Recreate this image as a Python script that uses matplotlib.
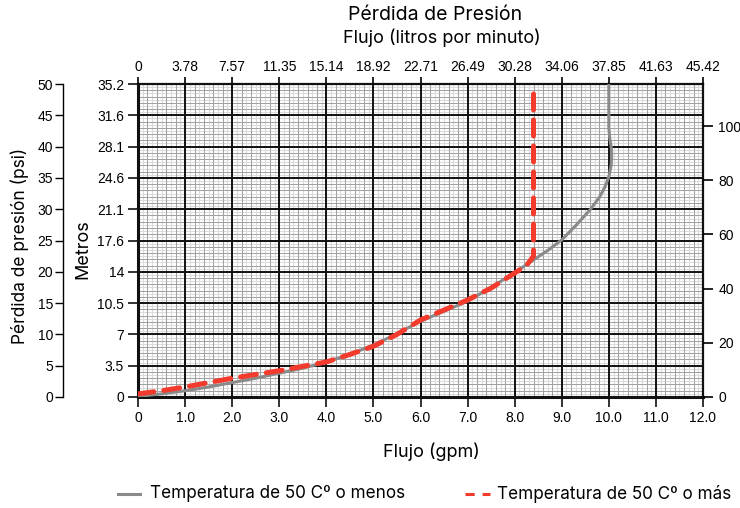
import matplotlib.pyplot as plt
import numpy as np
from matplotlib.lines import Line2D

# curves (flow in gpm, pressure loss in psi)
gpm_low = [0, 0.5, 1, 1.5, 2, 2.5, 3, 3.5, 4, 4.5, 5, 5.5, 6, 6.5, 7, 7.5, 8,
           8.4, 8.7, 9, 9.3, 9.6, 9.8, 9.92, 10.0, 10.05, 10.06, 10.05, 10.02, 10.0, 10.0]
psi_low = [0.1, 0.5, 1.0, 1.6, 2.3, 3.0, 3.8, 4.6, 5.6, 6.8, 8.3, 10.1, 12.1, 13.7, 15.3, 17.5, 19.9,
           21.9, 23.4, 25.1, 27.4, 29.9, 31.9, 33.6, 35.2, 37.0, 38.5, 40.0, 41.3, 43.0, 50.0]

gpm_high = [0, 0.5, 1, 1.5, 2, 2.5, 3, 3.5, 4, 4.5, 5, 5.5, 6, 6.5, 7, 7.5, 8, 8.25, 8.4, 8.4]
psi_high = [0.5, 1.0, 1.6, 2.3, 3.0, 3.6, 4.2, 4.9, 5.6, 6.8, 8.1, 10.0, 12.3, 13.9, 15.5, 17.4, 19.8, 21.0, 22.5, 50.0]

gpm_ticks = [0, 1, 2, 3, 4, 5, 6, 7, 8, 9, 10, 11, 12]
gpm_labels = ["0", "1.0", "2.0", "3.0", "4.0", "5.0", "6.0", "7.0", "8.0", "9.0", "10.0", "11.0", "12.0"]
lpm_labels = ["0", "3.78", "7.57", "11.35", "15.14", "18.92", "22.71", "26.49",
              "30.28", "34.06", "37.85", "41.63", "45.42"]
psi_ticks = [0, 5, 10, 15, 20, 25, 30, 35, 40, 45, 50]
metros_labels = ["0", "3.5", "7", "10.5", "14", "17.6", "21.1", "24.6", "28.1", "31.6", "35.2"]
pies_ticks = [0, 20, 40, 60, 80, 100]

TXT = "Inter"
NUM = "Liberation Sans"

fig = plt.figure(figsize=(7.4, 5.08), dpi=100)
W, H = 740, 508
L, R, T, B = 138, 703, 84, 397
ax = fig.add_axes([L / W, 1 - B / H, (R - L) / W, (B - T) / H])
ax.set_xlim(0, 12)
ax.set_ylim(0, 50)

# grid: light half-steps, gray minor steps, black major lines
for x in np.arange(0.1, 12, 0.2):
    ax.axvline(x, color="#dcdcdc", lw=0.8, zorder=0)
for x in np.arange(0.2, 12, 0.2):
    ax.axvline(x, color="#a2a2a2", lw=0.75, zorder=0.5)
for y in np.arange(0.5, 50, 1.0):
    ax.axhline(y, color="#dcdcdc", lw=0.8, zorder=0)
for y in np.arange(1, 50, 1.0):
    ax.axhline(y, color="#a2a2a2", lw=0.75, zorder=0.5)
for x in gpm_ticks[1:-1]:
    ax.axvline(x, color="#111111", lw=1.4, zorder=1)
for y in psi_ticks[1:-1]:
    ax.axhline(y, color="#111111", lw=1.4, zorder=1)

ax.plot(gpm_low, psi_low, color="#8a8a8a", lw=2.2, zorder=3, solid_capstyle="round")
ax.plot(gpm_high, psi_high, color="#f23b2c", lw=3.6, zorder=4,
        dashes=(3.2, 2.0), dash_capstyle="round")

for s in ax.spines.values():
    s.set_linewidth(1.6)
    s.set_color("#111111")
ax.spines["bottom"].set_linewidth(2.2)
ax.spines["left"].set_linewidth(2.2)

# bottom: gpm
ax.set_xticks(gpm_ticks)
ax.set_xticklabels(gpm_labels, fontfamily=NUM, fontsize=10)
# inner left: metros (same positions as psi)
ax.set_yticks(psi_ticks)
ax.set_yticklabels(metros_labels, fontfamily=NUM, fontsize=10)
ax.tick_params(axis="both", length=7, width=1.2, color="#111111", pad=3)

# top: liters per minute
axt = ax.twiny()
axt.set_xlim(0, 12)
axt.set_xticks(gpm_ticks)
axt.set_xticklabels(lpm_labels, fontfamily=NUM, fontsize=10)
axt.tick_params(axis="x", length=5, width=1.2, pad=2)
for s in axt.spines.values():
    s.set_visible(False)

# right: feet
axr = ax.twinx()
axr.set_ylim(0, 50 * 2.31)
axr.set_yticks(pies_ticks)
axr.set_yticklabels([str(v) for v in pies_ticks], fontfamily=NUM, fontsize=10)
axr.tick_params(axis="y", length=7, width=1.2, pad=4)
for s in axr.spines.values():
    s.set_visible(False)

# outer left: psi
axp = ax.twinx()
axp.set_ylim(0, 50)
axp.yaxis.set_ticks_position("left")
axp.yaxis.set_label_position("left")
axp.spines["left"].set_position(("outward", 75 * 72 / 100))
for k in ["top", "right", "bottom"]:
    axp.spines[k].set_visible(False)
axp.spines["left"].set_linewidth(1.0)
axp.set_yticks(psi_ticks)
axp.set_yticklabels([str(v) for v in psi_ticks], fontfamily=NUM, fontsize=10)
axp.tick_params(axis="y", length=6, width=1.0, pad=1)

fig.text(20 / W, 1 - 246 / H, "Pérdida de presión (psi)", rotation=90, ha="center", va="center",
         fontfamily=TXT, fontsize=12.5)
fig.text(83 / W, 1 - 249 / H, "Metros", rotation=90, ha="center", va="center",
         fontfamily=TXT, fontsize=13)
fig.text(435 / W, 1 - 15 / H, "Pérdida de Presión", ha="center", va="center",
         fontfamily=TXT, fontsize=14)
fig.text(442 / W, 1 - 38 / H, "Flujo (litros por minuto)", ha="center", va="center",
         fontfamily=TXT, fontsize=13)
fig.text(431 / W, 1 - 452 / H, "Flujo (gpm)", ha="center", va="center",
         fontfamily=TXT, fontsize=13)

# legend, placed by hand along the bottom
ly = 1 - 494 / H
fig.add_artist(Line2D([118 / W, 140 / W], [ly, ly], transform=fig.transFigure,
                      color="#8a8a8a", lw=2.2))
fig.text(150 / W, ly, "Temperatura de 50 Cº o menos", ha="left", va="center",
         fontfamily=TXT, fontsize=12.3)
fig.add_artist(Line2D([465 / W, 490 / W], [ly, ly], transform=fig.transFigure,
                      color="#f23b2c", lw=2.2, dashes=(3.0, 2.6)))
fig.text(497 / W, ly, "Temperatura de 50 Cº o más", ha="left", va="center",
         fontfamily=TXT, fontsize=12.3)

plt.savefig("out.png", dpi=100)
